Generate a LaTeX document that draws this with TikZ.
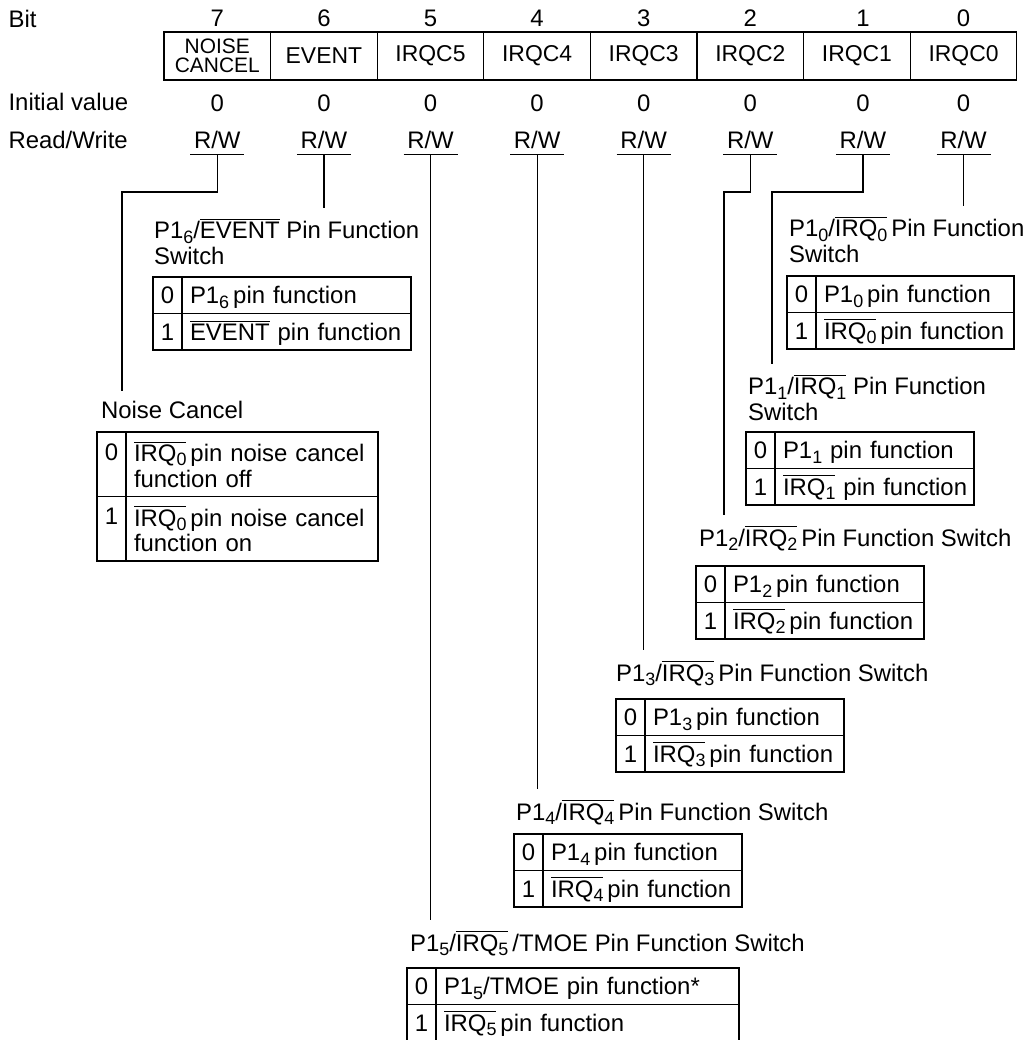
\documentclass[tikz,border=0pt]{standalone}
\usepackage{fontspec}
\setmainfont{Liberation Sans}
\usetikzlibrary{positioning}
\newcommand{\lowsub}[1]{\raisebox{-2.2bp}{\fontsize{9}{9}\selectfont #1}}
\newcommand{\negsig}[1]{$\overline{\hbox{#1}}$}

\begin{document}
\begin{tikzpicture}[
  x=0.5bp, y=-0.5bp,
  font=\fontsize{12}{13}\selectfont,
  line width=0.6bp,
  rowlabel/.style={
    anchor=west, inner sep=0pt, text height=8.6bp, text depth=0pt
  },
  regcell/.style={
    draw, minimum width=53.3bp, minimum height=24bp, inner sep=0pt,
    outer sep=0pt, align=center, font=\fontsize{11.5}{13}\selectfont
  },
  bitval/.style={inner sep=0pt, text height=8.6bp, text depth=0pt},
  rwlabel/.style={
    minimum width=27bp, inner xsep=0pt, inner ysep=2.75bp, outer sep=0pt,
    text height=8.6bp, text depth=0pt
  },
  swtitle/.style={anchor=west, inner xsep=0pt, inner ysep=5bp, align=left},
  valcell/.style={
    draw, minimum width=14.5bp, minimum height=18.25bp, inner sep=0pt,
    outer sep=0pt, text height=8.6bp, text depth=0pt
  },
  desccell/.style={
    draw, text width=#1, minimum height=18.25bp, inner xsep=4bp,
    inner ysep=0pt, outer sep=0pt, align=left,
    text height=8.6bp, text depth=0pt
  },
]
\useasboundingbox (0,0) rectangle (1024,1040);

% register
\node[rowlabel] (lbit) at (8,18.5) {Bit};
\node[rowlabel] (linit) at (8,102) {Initial value};
\node[rowlabel] (lrw) at (8,140) {Read/Write};

\node[regcell, anchor=north west, font=\fontsize{10.5}{9.6}\selectfont]
  (b7) at (164,32) {NOISE\\CANCEL};
\node[regcell, right=0pt of b7] (b6) {EVENT};
\node[regcell, right=0pt of b6] (b5) {IRQC5};
\node[regcell, right=0pt of b5] (b4) {IRQC4};
\node[regcell, right=0pt of b4] (b3) {IRQC3};
\node[regcell, right=0pt of b3] (b2) {IRQC2};
\node[regcell, right=0pt of b2] (b1) {IRQC1};
\node[regcell, right=0pt of b1] (b0) {IRQC0};

\node[bitval, above=2.5bp of b7] (n7) {7};
\node[bitval, above=2.5bp of b6] (n6) {6};
\node[bitval, above=2.5bp of b5] (n5) {5};
\node[bitval, above=2.5bp of b4] (n4) {4};
\node[bitval, above=2.5bp of b3] (n3) {3};
\node[bitval, above=2.5bp of b2] (n2) {2};
\node[bitval, above=2.5bp of b1, xshift=3bp] (n1) {1};
\node[bitval, above=2.5bp of b0] (n0) {0};

\node[bitval, below=6.7bp of b7] (i7) {0};
\node[bitval, below=6.7bp of b6] (i6) {0};
\node[bitval, below=6.7bp of b5] (i5) {0};
\node[bitval, below=6.7bp of b4] (i4) {0};
\node[bitval, below=6.7bp of b3] (i3) {0};
\node[bitval, below=6.7bp of b2] (i2) {0};
\node[bitval, below=6.7bp of b1, xshift=3bp] (i1) {0};
\node[bitval, below=6.7bp of b0] (i0) {0};

\node[rwlabel, below=23bp of b7] (rw7) {R/W};
\node[rwlabel, below=23bp of b6] (rw6) {R/W};
\node[rwlabel, below=23bp of b5] (rw5) {R/W};
\node[rwlabel, below=23bp of b4] (rw4) {R/W};
\node[rwlabel, below=23bp of b3] (rw3) {R/W};
\node[rwlabel, below=23bp of b2] (rw2) {R/W};
\node[rwlabel, below=23bp of b1, xshift=3bp] (rw1) {R/W};
\node[rwlabel, below=23bp of b0] (rw0) {R/W};

% switch titles
\node[swtitle] (t6) at (153.5,241.5)
  {P1\lowsub{6}/\negsig{EVENT} Pin Function\\Switch};
\node[swtitle] (tnc) at (100.5,410) {Noise Cancel};
\node[swtitle] (t0) at (788.5,239.5)
  {P1\lowsub{0}/\negsig{IRQ\lowsub{0}}\,Pin Function\\Switch};
\node[swtitle] (t1) at (747.5,397.5)
  {P1\lowsub{1}/\negsig{IRQ\lowsub{1}} Pin Function\\Switch};
\node[swtitle] (t2) at (698.5,538)
  {P1\lowsub{2}/\negsig{IRQ\lowsub{2}}\,Pin Function Switch};
\node[swtitle] (t3) at (615.5,673)
  {P1\lowsub{3}/\negsig{IRQ\lowsub{3}}\,Pin Function Switch};
\node[swtitle] (t4) at (515.5,812)
  {P1\lowsub{4}/\negsig{IRQ\lowsub{4}}\,Pin Function Switch};
\node[swtitle] (t5) at (409.5,943)
  {P1\lowsub{5}/\negsig{IRQ\lowsub{5}}\,/TMOE Pin Function Switch};

% connectors
\coordinate (k7) at (122,192);
\coordinate (k2) at (724,192);
\coordinate (k1) at (772,192);
\draw (rw7.south west) -- (rw7.south east)
  (rw7.south) |- (k7) -- (k7 |- tnc.north);
\draw (rw6.south west) -- (rw6.south east)
  (rw6.south) -- (rw6.south |- t6.north);
\draw (rw5.south west) -- (rw5.south east)
  (rw5.south) -- (rw5.south |- t5.north);
\draw (rw4.south west) -- (rw4.south east)
  (rw4.south) -- (rw4.south |- t4.north);
\draw (rw3.south west) -- (rw3.south east)
  (rw3.south) -- (rw3.south |- t3.north);
\draw (rw2.south west) -- (rw2.south east)
  (rw2.south) |- (k2) -- (k2 |- t2.north);
\draw (rw1.south west) -- (rw1.south east)
  (rw1.south) |- (k1) -- (k1 |- t1.north);
\draw (rw0.south west) -- (rw0.south east)
  (rw0.south) -- (rw0.south |- t0.north);

% P16 / EVENT
\node[valcell, anchor=north west] (v6a) at (153,277) {0};
\node[desccell=106.5bp, right=0pt of v6a] (d6a)
  {\mbox{P1\lowsub{6}\,pin function}};
\node[valcell, below=0pt of v6a] (v6b) {1};
\node[desccell=106.5bp, right=0pt of v6b] (d6b)
  {\mbox{\negsig{EVENT} pin function}};

% noise cancel
\node[valcell, anchor=north west, minimum height=32.25bp, text depth=12.5bp]
  (vnca) at (97,432) {0};
\node[desccell=118bp, minimum height=32.25bp, text height=, text depth=,
  right=0pt of vnca] (dnca)
  {\negsig{IRQ\lowsub{0}}\,pin noise cancel\\function off};
\node[valcell, minimum height=32.25bp, text depth=12.5bp,
  below=0pt of vnca] (vncb) {1};
\node[desccell=118bp, minimum height=32.25bp, text height=, text depth=,
  right=0pt of vncb] (dncb)
  {\negsig{IRQ\lowsub{0}}\,pin noise cancel\\function on};

% P10 / IRQ0
\node[valcell, anchor=north west] (v0a) at (787,276) {0};
\node[desccell=91bp, right=0pt of v0a] (d0a)
  {\mbox{P1\lowsub{0}\,pin function}};
\node[valcell, below=0pt of v0a] (v0b) {1};
\node[desccell=91bp, right=0pt of v0b] (d0b)
  {\mbox{\negsig{IRQ\lowsub{0}}\,pin function}};

% P11 / IRQ1
\node[valcell, anchor=north west] (v1a) at (746,432) {0};
\node[desccell=91.5bp, right=0pt of v1a] (d1a)
  {\mbox{P1\lowsub{1} pin function}};
\node[valcell, below=0pt of v1a] (v1b) {1};
\node[desccell=91.5bp, right=0pt of v1b] (d1b)
  {\mbox{\negsig{IRQ\lowsub{1}} pin function}};

% P12 / IRQ2
\node[valcell, anchor=north west] (v2a) at (696,566) {0};
\node[desccell=91.5bp, right=0pt of v2a] (d2a)
  {\mbox{P1\lowsub{2}\,pin function}};
\node[valcell, below=0pt of v2a] (v2b) {1};
\node[desccell=91.5bp, right=0pt of v2b] (d2b)
  {\mbox{\negsig{IRQ\lowsub{2}}\,pin function}};

% P13 / IRQ3
\node[valcell, anchor=north west] (v3a) at (616,699) {0};
\node[desccell=91.5bp, right=0pt of v3a] (d3a)
  {\mbox{P1\lowsub{3}\,pin function}};
\node[valcell, below=0pt of v3a] (v3b) {1};
\node[desccell=91.5bp, right=0pt of v3b] (d3b)
  {\mbox{\negsig{IRQ\lowsub{3}}\,pin function}};

% P14 / IRQ4
\node[valcell, anchor=north west] (v4a) at (514,834) {0};
\node[desccell=91.5bp, right=0pt of v4a] (d4a)
  {\mbox{P1\lowsub{4}\,pin function}};
\node[valcell, below=0pt of v4a] (v4b) {1};
\node[desccell=91.5bp, right=0pt of v4b] (d4b)
  {\mbox{\negsig{IRQ\lowsub{4}}\,pin function}};

% P15 / IRQ5 / TMOE
\node[valcell, anchor=north west] (v5a) at (407,968) {0};
\node[desccell=143.5bp, right=0pt of v5a] (d5a)
  {\mbox{P1\lowsub{5}/TMOE pin function*}};
\node[valcell, below=0pt of v5a] (v5b) {1};
\node[desccell=143.5bp, right=0pt of v5b] (d5b)
  {\mbox{\negsig{IRQ\lowsub{5}}\,pin function}};

\end{tikzpicture}
\end{document}
